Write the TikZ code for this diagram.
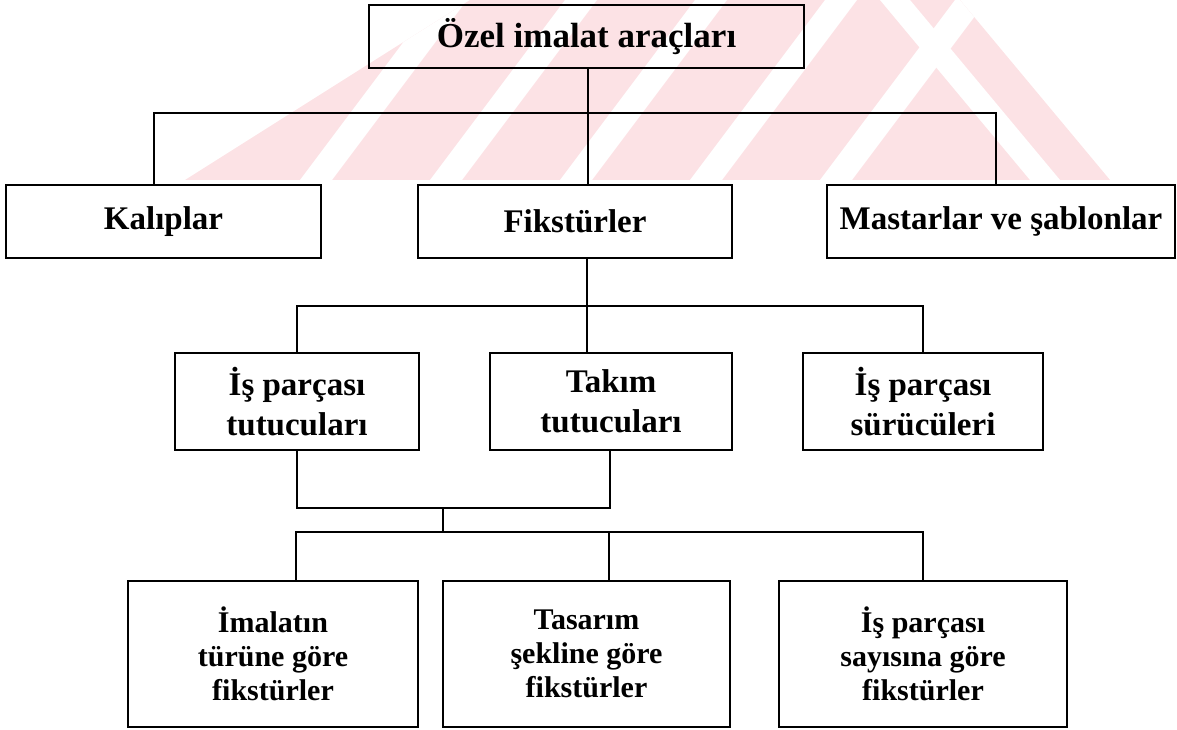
\documentclass[tikz,border=0pt]{standalone}
\usepackage{fontspec}
\setmainfont{Liberation Serif}
\definecolor{wm}{RGB}{252,226,229}
\begin{document}
\begin{tikzpicture}[x=1pt,y=-1pt,
  box/.style={draw, line width=1.8pt, align=center, inner sep=0pt,
    font=\fontsize{33}{40}\selectfont\bfseries},
  bigbox/.style={box, font=\fontsize{35}{40}\selectfont\bfseries},
  smallbox/.style={box, font=\fontsize{30}{34}\selectfont\bfseries},
  conn/.style={line width=1.8pt}]
\useasboundingbox (0,0) rectangle (1177,729);
% watermark
\begin{scope}
\clip (185,180) -- (470,0) -- (960,0) -- (1110,180) -- cycle;
\fill[wm] (0,0) rectangle (1177,180);
\foreach \a in {300,430,560,690,820}{
  \fill[white] (\a,180) -- (\a+32,180) -- (\a+167,0) -- (\a+135,0) -- cycle;
}
\fill[white] (880,0) -- (910,0) -- (1060,180) -- (1030,180) -- cycle;
\end{scope}
% nodes
\node[bigbox, minimum width=435pt, minimum height=63pt] (top) at (586.5,36.5) {Özel imalat araçları};
\node[box, minimum width=315pt, minimum height=73pt] (kal) at (163.5,221.5) {Kalıplar};
\node[box, minimum width=314pt, minimum height=73pt] (fik) at (575,221.5) {Fikstürler};
\node[box, minimum width=348pt, minimum height=73pt] (mas) at (1001,221.5) {Mastarlar ve şablonlar};
\node[box, minimum width=244pt, minimum height=97pt] (tut) at (297,401.5) {İş parçası\\tutucuları};
\node[box, minimum width=242pt, minimum height=97pt] (tak) at (611,401.5) {Takım\\tutucuları};
\node[box, minimum width=240pt, minimum height=97pt] (sur) at (923,401.5) {İş parçası\\sürücüleri};
\node[smallbox, minimum width=290pt, minimum height=146pt] (b1) at (273,654) {İmalatın\\türüne göre\\fikstürler};
\node[smallbox, minimum width=287pt, minimum height=146pt] (b2) at (586.5,654) {Tasarım\\şekline göre\\fikstürler};
\node[smallbox, minimum width=288pt, minimum height=146pt] (b3) at (923,654) {İş parçası\\sayısına göre\\fikstürler};
% helper coordinates
\coordinate (h1) at (0,113);
\coordinate (h2) at (0,306);
\coordinate (m1) at (443,508);
\coordinate (h4) at (0,532);
% connectors
\draw[conn] ([xshift=1.5pt]top.south) -- ([xshift=1.5pt]top.south |- fik.north);
\draw[conn] ([xshift=-9.5pt]kal.north) |- ([xshift=-5pt]mas.north |- h1) -- ([xshift=-5pt]mas.north);
\draw[conn] ([xshift=12pt]fik.south) -- ([xshift=12pt]fik.south |- tak.north);
\draw[conn] (tut.north) |- (sur.north |- h2) -- (sur.north);
\draw[conn] (tut.south) |- (m1) -| ([xshift=-1pt]tak.south);
\draw[conn] (m1) -- (m1 |- h4);
\draw[conn] ([xshift=23pt]b1.north) |- (b3.north |- h4) -- (b3.north);
\draw[conn] ([xshift=22.5pt]b2.north) -- ([xshift=22.5pt]b2.north |- h4);
\end{tikzpicture}
\end{document}
